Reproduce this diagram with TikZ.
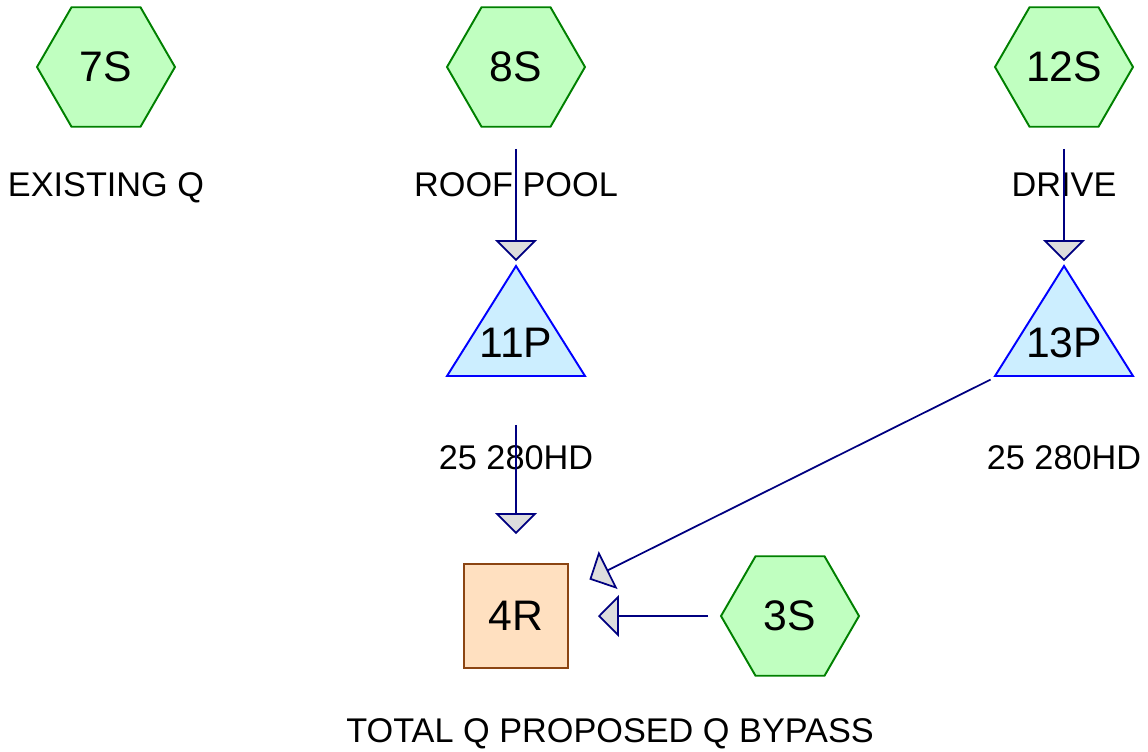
\documentclass[tikz,border=0pt]{standalone}
\usepackage{fontspec}
\setmainfont{Liberation Sans}
\usetikzlibrary{arrows.meta,shapes.geometric}
\definecolor{HexFill}{HTML}{C0FFC0}
\definecolor{HexLine}{HTML}{008000}
\definecolor{PondFill}{HTML}{CCEEFF}
\definecolor{PondLine}{HTML}{0000FF}
\definecolor{ReachFill}{HTML}{FFE0C0}
\definecolor{ReachLine}{HTML}{8B4513}
\definecolor{Navy}{HTML}{000080}
\definecolor{TipGrey}{HTML}{DDDDDD}

\begin{document}
\begin{tikzpicture}[
  x=0.02cm,y=-0.02cm,
  subcat/.style={regular polygon,regular polygon sides=6,minimum size=2.76cm,inner sep=0pt,draw=HexLine,fill=HexFill,line width=1.1pt,font=\fontsize{24.3}{27}\selectfont},
  reach/.style={rectangle,minimum size=2.08cm,inner sep=0pt,draw=ReachLine,fill=ReachFill,line width=1.1pt,font=\fontsize{24.3}{27}\selectfont},
  pondbox/.style={draw=PondLine,fill=PondFill,line width=1.1pt},
  pond/.style={inner sep=0pt,font=\fontsize{24.3}{27}\selectfont},
  lbl/.style={anchor=base,font=\fontsize{19.5}{22}\selectfont},
  conn/.style={draw=Navy,line width=1pt,shorten <=1.64cm,shorten >=1.64cm,-{Triangle[width=0.84cm,length=0.42cm,fill=TipGrey]}}
]
\useasboundingbox (0,0) rectangle (1148,751);
% subcatchments
\node[subcat] (7S) at (106,67) {7S};
\node[subcat] (8S) at (516,67) {8S};
\node[subcat] (12S) at (1064,67) {12S};
\node[subcat] (3S) at (790,616) {3S};
% ponds
\foreach \x in {516,1064}
  \draw[pondbox] (\x,266) -- (\x+69,376) -- (\x-69,376) -- cycle;
\node[pond] (11P) at (516,343) {11P};
\node[pond] (13P) at (1064,343) {13P};
% reach
\node[reach] (4R) at (516,616) {4R};
% labels
\node[lbl] (l7S) at (106,196) {EXISTING Q};
\node[lbl] (l8S) at (516,196) {ROOF POOL};
\node[lbl] (l12S) at (1064,196) {DRIVE};
\node[lbl] (l11P) at (516,469) {25 280HD};
\node[lbl] (l13P) at (1064,469) {25 280HD};
\node[lbl] (l4R) at (610,742) {TOTAL Q PROPOSED Q BYPASS};
% links
\draw[conn] (8S.center) -- (11P.center);
\draw[conn] (12S.center) -- (13P.center);
\draw[conn] (11P.center) -- (4R.center);
\draw[conn] (13P.center) -- (4R.center);
\draw[conn] (3S.center) -- (4R.center);
\end{tikzpicture}
\end{document}
